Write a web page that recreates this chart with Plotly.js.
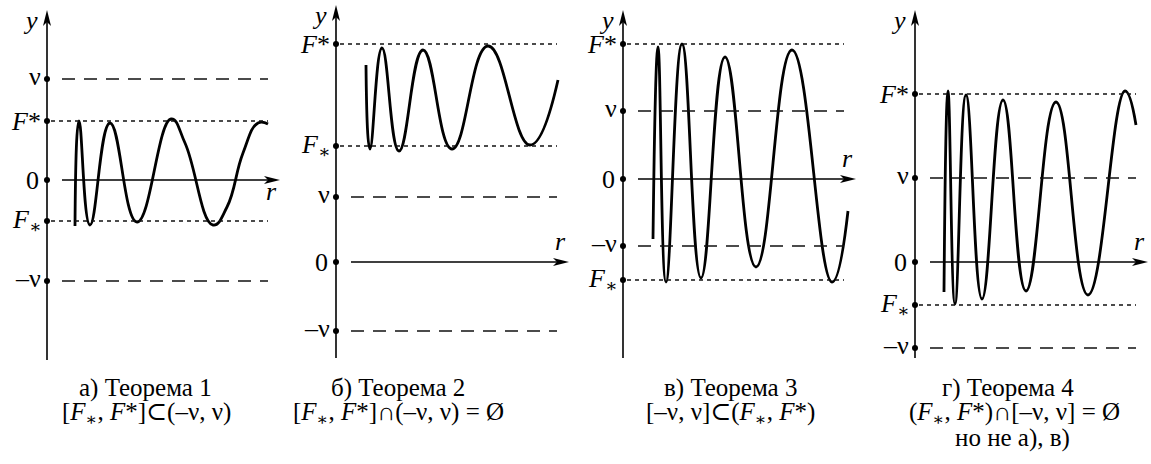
<!DOCTYPE html>
<html>
<head>
<meta charset="utf-8">
<script src="https://cdn.plot.ly/plotly-3.0.1.min.js"></script>
<style>
  body { margin: 0; background: #fff; }
</style>
</head>
<body>
<div id="chart" style="width:1151px;height:464px"></div>
<script>
// level labels, same order in every panel: nu, F*, 0, F_*, -nu
const levelNames = ['ν', '<i>F</i>*', '0', '<i>F</i><sub>∗</sub>', '–ν'];

// level values (units of the panel's own y axis)
const levelsA = [1.01, 0.59, 0, -0.41, -1.01];
const levelsB = [0.65, 2.18, 0, 1.16, -0.69];
const levelsC = [0.68, 1.35, 0, -1.01, -0.67];
const levelsD = [0.84, 1.68, 0, -0.43, -0.86];

// curve points (start, extrema, end)
const curveAx = [0.28, 0.32, 0.43, 0.63, 0.90, 1.24, 1.38, 1.66, 1.80, 1.96, 2.11, 2.21];
const curveAy = [-0.46, 0.59, -0.45, 0.57, -0.42, 0.61, 0.37, -0.45, -0.27, 0.27, 0.57, 0.56];

const curveBx = [0.30, 0.34, 0.46, 0.63, 0.87, 1.16, 1.52, 1.94, 2.22];
const curveBy = [1.97, 1.13, 2.14, 1.11, 2.12, 1.13, 2.16, 1.17, 1.82];

const curveCx = [0.30, 0.35, 0.43, 0.59, 0.78, 1.02, 1.33, 1.69, 2.09, 2.25];
const curveCy = [-0.60, 1.32, -1.03, 1.35, -0.99, 1.22, -0.88, 1.29, -1.03, -0.32];

const curveDx = [0.29, 0.33, 0.40, 0.51, 0.67, 0.88, 1.11, 1.41, 1.73, 2.10, 2.21];
const curveDy = [-0.30, 1.71, -0.42, 1.67, -0.37, 1.62, -0.29, 1.60, -0.33, 1.71, 1.37];

// captions under the panels
const captionTitles = ['а) Теорема 1', 'б) Теорема 2', 'в) Теорема 3', 'г) Теорема 4'];
const captionFormulas = [
    '[<i>F</i><sub>∗</sub>, <i>F</i>*]⊂(–ν, ν)',
    '[<i>F</i><sub>∗</sub>, <i>F</i>*]∩(–ν, ν) = Ø',
    '[–ν, ν]⊂(<i>F</i><sub>∗</sub>, <i>F</i>*)',
    '(<i>F</i><sub>∗</sub>, <i>F</i>*)∩[–ν, ν] = Ø'
];
const captionExtra = 'но не а), в)';

const panels = [
    {levels: levelsA, cx: curveAx, cy: curveAy},
    {levels: levelsB, cx: curveBx, cy: curveBy},
    {levels: levelsC, cx: curveCx, cy: curveCy},
    {levels: levelsD, cx: curveDx, cy: curveDy}
];

// page geometry (pixels)
const W = 1151, H = 464, S = 100;        // S = pixels per axis unit
const edges = [0, 290, 575, 860, 1151];
const originX = [47, 336, 623, 915];
const originY = [180, 262, 179, 262];
const axisTop = [10, 5, 10, 10];
const axisBottom = [360, 358, 358, 358];
const rBelow = [true, false, false, false];
const captionX = [[145, 146], [398, 398], [730, 730], [1008, 1014]];
const captionY = [388, 413, 438];

const serif = '"Liberation Serif", "DejaVu Serif", Tinos, "Times New Roman", serif';
const labelFont = {family: serif, size: 26, color: '#000'};
const captionFont = {family: serif, size: 25, color: '#000'};

const traces = [];
const shapes = [];
const annotations = [];
const layout = {
    width: W, height: H,
    margin: {l: 0, r: 0, t: 0, b: 0},
    paper_bgcolor: '#fff',
    plot_bgcolor: 'rgba(0,0,0,0)',
    font: {family: serif, size: 22, color: '#000'},
    showlegend: false
};

panels.forEach((p, i) => {
    const n = i === 0 ? '' : String(i + 1);
    const xa = 'x' + n, ya = 'y' + n;
    const ox = originX[i], oy = originY[i];

    layout['xaxis' + n] = {
        domain: [edges[i] / W, edges[i + 1] / W],
        range: [(edges[i] - ox) / S, (edges[i + 1] - ox) / S],
        anchor: ya, visible: false, fixedrange: true
    };
    layout['yaxis' + n] = {
        domain: [0, 1],
        range: [(oy - H) / S, oy / S],
        anchor: xa, visible: false, fixedrange: true
    };

    const top = (oy - axisTop[i]) / S;
    const bottom = (oy - axisBottom[i]) / S;
    const rTip = 2.33;

    // y axis with arrow
    shapes.push({type: 'line', xref: xa, yref: ya, x0: 0, x1: 0, y0: bottom, y1: top - 0.1,
        line: {color: '#000', width: 1.6}});
    shapes.push({type: 'path', xref: xa, yref: ya,
        path: `M 0,${top} L -0.04,${top - 0.16} L 0,${top - 0.12} L 0.04,${top - 0.16} Z`,
        fillcolor: '#000', line: {width: 0}});
    // r axis with arrow
    shapes.push({type: 'line', xref: xa, yref: ya, x0: 0.15, x1: rTip - 0.1, y0: 0, y1: 0,
        line: {color: '#000', width: 1.6}});
    shapes.push({type: 'path', xref: xa, yref: ya,
        path: `M ${rTip},0 L ${rTip - 0.16},0.04 L ${rTip - 0.12},0 L ${rTip - 0.16},-0.04 Z`,
        fillcolor: '#000', line: {width: 0}});

    // level lines: nu dashed, F dotted
    p.levels.forEach((v, j) => {
        if (j === 2) return;
        const isNu = (j === 0 || j === 4);
        shapes.push({type: 'line', xref: xa, yref: ya,
            x0: isNu ? 0.15 : 0.04, x1: 2.21, y0: v, y1: v,
            line: {color: '#111', width: 1.3, dash: isNu ? '13px,9px' : '4px,4px'}});
        annotations.push({xref: xa, yref: ya, x: 0, y: v, text: levelNames[j],
            showarrow: false, xanchor: 'right', yanchor: 'middle', xshift: -4,
            yshift: isNu ? 3 : 0, font: labelFont});
    });
    annotations.push({xref: xa, yref: ya, x: 0, y: 0, text: levelNames[2],
        showarrow: false, xanchor: 'right', yanchor: 'middle', xshift: -6, font: labelFont});

    // axis names
    annotations.push({xref: xa, yref: ya, x: 0, y: top, text: '<i>y</i>',
        showarrow: false, xanchor: 'right', yanchor: 'top', xshift: -7, yshift: 6, font: labelFont});
    annotations.push({xref: xa, yref: ya, x: rTip - 0.09, y: rBelow[i] ? -0.11 : 0.21,
        text: '<i>r</i>', showarrow: false, xanchor: 'center', yanchor: 'middle', font: labelFont});

    // level dots
    traces.push({x: p.levels.map(() => 0), y: p.levels, xaxis: xa, yaxis: ya,
        mode: 'markers', marker: {size: 6, color: '#000'}, hoverinfo: 'skip', cliponaxis: false});
    // the curve
    traces.push({x: p.cx, y: p.cy, xaxis: xa, yaxis: ya, mode: 'lines',
        line: {shape: 'spline', smoothing: 1.3, width: 2.8, color: '#000'}, hoverinfo: 'skip'});

    // captions
    annotations.push({xref: 'paper', yref: 'paper', x: captionX[i][0] / W, y: 1 - captionY[0] / H,
        text: captionTitles[i], showarrow: false, xanchor: 'center', yanchor: 'middle', font: captionFont});
    annotations.push({xref: 'paper', yref: 'paper', x: captionX[i][1] / W, y: 1 - captionY[1] / H,
        text: captionFormulas[i], showarrow: false, xanchor: 'center', yanchor: 'middle', font: captionFont});
});

annotations.push({xref: 'paper', yref: 'paper', x: 1012 / W, y: 1 - captionY[2] / H,
    text: captionExtra, showarrow: false, xanchor: 'center', yanchor: 'middle', font: captionFont});

layout.shapes = shapes;
layout.annotations = annotations;

Plotly.newPlot('chart', traces, layout, {staticPlot: true, displayModeBar: false});
</script>
</body>
</html>
